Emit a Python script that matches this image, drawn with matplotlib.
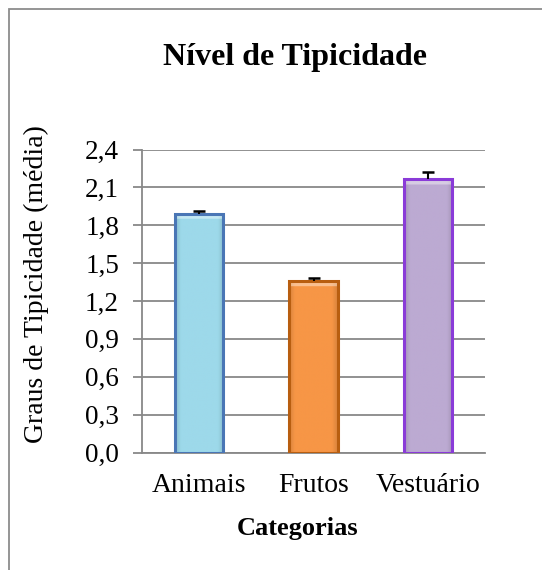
import matplotlib
matplotlib.use("Agg")
import matplotlib.pyplot as plt
import numpy as np
from matplotlib.patches import Rectangle
from matplotlib.colors import to_rgb

categories = ["Animais", "Frutos", "Vestuário"]
means = [1.89, 1.36, 2.17]
errors = [0.025, 0.02, 0.055]
yticks = [0.0, 0.3, 0.6, 0.9, 1.2, 1.5, 1.8, 2.1, 2.4]
fill_colors = ["#9DD9EA", "#F79646", "#BCAAD2"]
edge_colors = ["#4A76B5", "#B85E10", "#8A3BD8"]

plt.rcParams['font.family'] = ['Liberation Serif', 'DejaVu Serif']

W, H = 542, 570
fig = plt.figure(figsize=(W/100, H/100), dpi=100)
ax = fig.add_axes([142/W, 1-452.5/H, (485-142)/W, (452.5-149.5)/H])

x = list(range(len(categories)))
bars = ax.bar(x, means, width=0.425, color=fill_colors, edgecolor=edge_colors,
              linewidth=2.2, zorder=3)

# subtle bevel shading (darker near the sides, lighter top strip)
for b, c in zip(bars, fill_colors):
    base = np.array(to_rgb(c))
    nx, ny = 60, 200
    u = np.linspace(0, 1, nx)
    side = np.clip(np.minimum(u, 1-u) / 0.12, 0, 1)
    shade = 0.88 + 0.12 * side
    img = np.ones((ny, nx, 3)) * base
    img = img * shade[None, :, None]
    x0, y0 = b.get_x(), b.get_y()
    w, h = b.get_width(), b.get_height()
    # top highlight: ~5px
    top_px = 5
    frac = top_px / (h * (452.5-149.5) / 2.4)
    rows = int(max(1, round(frac * ny)))
    img[ny-rows:, :, :] = img[ny-rows:, :, :] * 0.6 + 0.4
    im = ax.imshow(img, extent=(x0, x0+w, y0, y0+h), origin='lower',
                   aspect='auto', zorder=3.1, interpolation='bilinear')
    im.set_clip_path(b)
    b.set_facecolor('none')
    b.set_zorder(3.2)

eb = ax.errorbar(x, means, yerr=[[0]*len(errors), errors], fmt='none',
                 ecolor='black', elinewidth=1.5, capsize=4.3, capthick=1.8, zorder=4)
eb[1][0].set_visible(False)

ax.set_xlim(-0.5, 2.5)
ax.set_ylim(0, 2.4)
ax.set_yticks(yticks)
ax.set_yticklabels([f"{v:.1f}".replace('.', ',') for v in yticks], fontsize=19.5)
ax.set_xticks(x)
ax.set_xticklabels(categories, fontsize=20)
ax.grid(axis='y', color='#888888', linewidth=1.3, zorder=0)
ax.set_axisbelow(True)
for s in ['top', 'right']:
    ax.spines[s].set_visible(False)
for s in ['left', 'bottom']:
    ax.spines[s].set_color('#888888')
    ax.spines[s].set_linewidth(1.3)
ax.tick_params(axis='y', length=6.5, color='#888888', width=1.3, pad=10)
ax.tick_params(axis='x', length=0, pad=15)

ax.set_ylabel("Graus de Tipicidade (média)", fontsize=20)
ax.yaxis.set_label_coords(-(142-36)/(485-142), (452.5-284)/(452.5-149.5))
ax.set_xlabel("Categorias", fontsize=19, fontweight='bold')
ax.xaxis.set_label_coords((298-142)/(485-142), -(529-452.5)/(452.5-149.5))
ax.xaxis.label.set_va('center')
ax.yaxis.label.set_va('center')
fig.text(295/W, 1-57/H, "Nível de Tipicidade", fontsize=23, fontweight='bold',
         ha='center', va='center')

fig.patches.append(Rectangle((8.5/W, -0.1), 1.2, 1-9/H+0.1, transform=fig.transFigure,
                             fill=False, edgecolor='#8c8c8c', linewidth=1.3, clip_on=False))

fig.savefig("out.png", dpi=100, facecolor='white')
